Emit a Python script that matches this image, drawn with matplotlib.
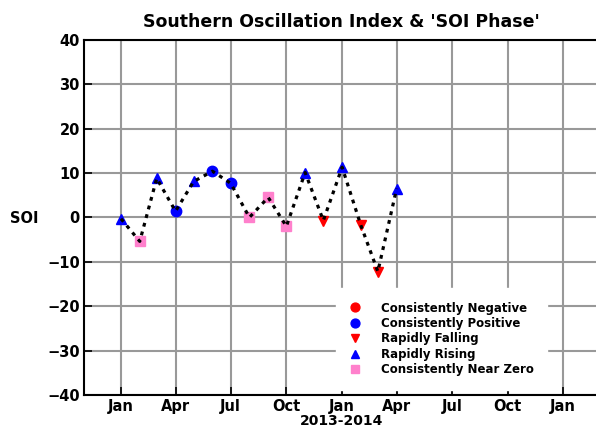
import numpy as np
import pandas as pd
import matplotlib
matplotlib.use("Agg")
import matplotlib.pyplot as plt
import matplotlib.dates as mdates

# monthly SOI values
months = ["2013-01", "2013-02", "2013-03", "2013-04", "2013-05", "2013-06",
          "2013-07", "2013-08", "2013-09", "2013-10", "2013-11", "2013-12",
          "2014-01", "2014-02", "2014-03", "2014-04"]
soi = [-0.3, -5.4, 8.8, 1.4, 8.1, 10.4, 7.7, 0.0, 4.5, -2.0, 10.1, -0.7,
       11.3, -1.8, -12.2, 6.5]
phase = ["rise", "zero", "rise", "pos", "rise", "pos", "pos", "zero", "zero",
         "zero", "rise", "fall", "rise", "fall", "fall", "rise"]

phase_keys = ["neg", "pos", "fall", "rise", "zero"]
phase_names = ["Consistently Negative", "Consistently Positive", "Rapidly Falling",
               "Rapidly Rising", "Consistently Near Zero"]
phase_marker = {"neg": "o", "pos": "o", "fall": "v", "rise": "^", "zero": "s"}
phase_color = {"neg": "#ff0000", "pos": "#0000ff", "fall": "#ff0000",
               "rise": "#0000ff", "zero": "#ff80cc"}

df = pd.DataFrame({"date": pd.to_datetime(months), "soi": soi, "phase": phase})

fig = plt.figure(figsize=(5.96, 4.30), dpi=100)
ax = fig.add_axes([0.141, 0.0814, 0.864, 0.826])

for k, name in zip(phase_keys, phase_names):
    sub = df[df["phase"] == k]
    ax.plot(sub["date"], sub["soi"], linestyle="none", marker=phase_marker[k],
            color=phase_color[k], markersize=7.5, label=name, zorder=3)

ax.plot(df["date"], df["soi"], color="black", linestyle=(0, (1.2, 1.6)),
        linewidth=2.3, zorder=4)

ax.set_xlim(pd.Timestamp("2012-11-01"), pd.Timestamp("2015-03-01"))
ax.set_ylim(-40, 40)
ax.set_yticks(np.arange(-40, 41, 10))
ax.xaxis.set_major_locator(mdates.MonthLocator(bymonth=[1, 4, 7, 10]))
ax.xaxis.set_major_formatter(mdates.DateFormatter("%b"))

ax.grid(True, color="#999999", linewidth=1.5)
ax.set_axisbelow(True)
for s in ax.spines.values():
    s.set_linewidth(1.5)
ax.tick_params(direction="in", length=6, width=1.2, labelsize=10.5, pad=3)
for lab in ax.get_xticklabels() + ax.get_yticklabels():
    lab.set_fontweight("bold")

ax.set_title("Southern Oscillation Index & 'SOI Phase'", fontsize=12.5,
             fontweight="bold", pad=9)
ax.set_xlabel("2013-2014", fontsize=10, fontweight="bold", labelpad=0)
fig.text(24 / 596, 1 - 218 / 430, "SOI", fontsize=10.5, fontweight="bold",
         ha="center", va="center")

leg = ax.legend(loc="upper left", bbox_to_anchor=(336 / 596, 1 - 288 / 430),
                bbox_transform=fig.transFigure, borderaxespad=0,
                prop={"size": 8.5, "weight": "bold"}, handlelength=0.95,
                handletextpad=1.7, labelspacing=0.2, borderpad=1.15,
                markerscale=0.85, fancybox=False, framealpha=1,
                edgecolor="white")
leg.set_zorder(5)

fig.savefig("out.png", dpi=100)
